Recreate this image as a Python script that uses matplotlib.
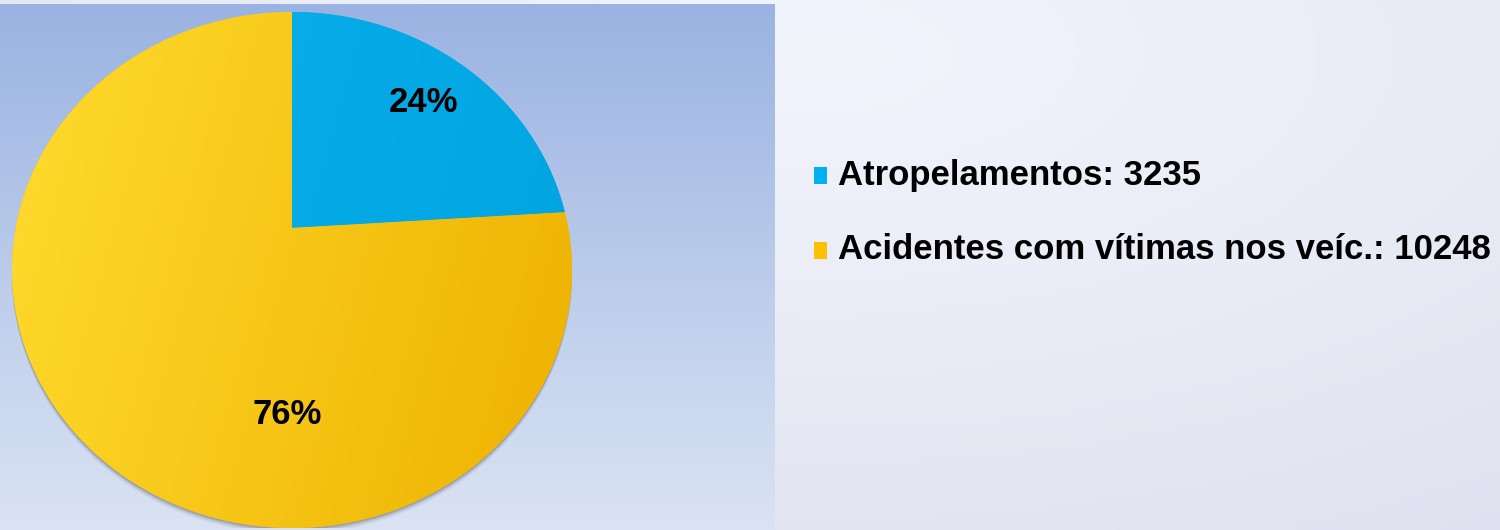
import numpy as np
import matplotlib.pyplot as plt
from matplotlib.colors import LinearSegmentedColormap, to_rgb
from matplotlib.patches import PathPatch, Rectangle
from matplotlib.path import Path

# data
labels = ["Atropelamentos", "Acidentes com vítimas nos veíc."]
values = [3235, 10248]
colors = ["#00B0F0", "#FFC000"]
grad_colors = [("#0AB3EE", "#00A3E0"), ("#FFDC2E", "#EEB100")]

W, H = 1500, 530
fig = plt.figure(figsize=(15, 5.3), dpi=100, facecolor="#E9EDF7")

# background axes in pixel coordinates
bg = fig.add_axes([0, 0, 1, 1])
bg.axis("off")

# right-hand slide background (light, lavender towards the edges)
yy, xx = np.mgrid[0:1:120j, 0:1:300j]
t = np.clip(np.sqrt(((xx - 0.55) * 1.3) ** 2 + ((yy - 0.1) * 1.0) ** 2) / 1.1, 0, 1)
c_light, c_dark = np.array(to_rgb("#F2F5FC")), np.array(to_rgb("#E0E1F0"))
right_img = c_light * (1 - t[..., None]) + c_dark * t[..., None]
bg.imshow(right_img, extent=(0, W, H, 0), aspect="auto", zorder=0)

# chart area background (blue vertical gradient)
ty = np.linspace(0, 1, 200)[:, None, None]
c_top, c_bot = np.array(to_rgb("#9AB3E2")), np.array(to_rgb("#DAE3F3"))
left_img = c_top * (1 - ty) + c_bot * ty
bg.imshow(left_img, extent=(0, 775, H, 4), aspect="auto", zorder=1)
bg.set_xlim(0, W)
bg.set_ylim(H, 0)

# pie axes; the original pie is drawn in perspective (tilted disc)
k = 0.163
pax = fig.add_axes([12 / W, 2 / H, 560 / W, 516 / H])
wedges, _ = pax.pie(values, colors=colors, startangle=90, counterclock=False)


def tilt(path, dy=0.0):
    # flatten the bezier arcs, then apply a projective map: far side shrinks
    pts = []
    for seg, code in path.iter_bezier():
        if code == Path.MOVETO:
            pts.append(seg.control_points[-1:])
        else:
            pts.append(seg(np.linspace(0, 1, 24))[1:])
    v = np.vstack(pts)
    w = 1 + k * v[:, 1]
    out = np.column_stack([v[:, 0] / w, v[:, 1] / w - dy])
    return Path(out, closed=True)


# soft shadow under the pie
circle = Path.unit_circle()
for s, a in zip([0.024, 0.017, 0.011, 0.006], [0.06, 0.09, 0.12, 0.15]):
    pax.add_patch(PathPatch(tilt(circle, dy=s), fc="#303030", ec="none", alpha=a, zorder=0))

# diagonal gradient (light at upper left, darker at lower right)
gx, gy = np.meshgrid(np.linspace(0, 1, 256), np.linspace(0, 1, 256))
grad = np.clip(0.8 * gx + 0.2 * gy, 0, 1)
for w, (c0, c1) in zip(wedges, grad_colors):
    patch = PathPatch(tilt(w.get_path()), fc=w.get_facecolor(), ec="none", zorder=2)
    pax.add_patch(patch)
    cmap = LinearSegmentedColormap.from_list("g", [c0, c1])
    im = pax.imshow(grad, cmap=cmap, extent=(-1.02, 1.02, -1.2, 0.87), origin="upper",
                    aspect="auto", zorder=3, interpolation="bilinear")
    im.set_clip_path(patch)
    w.set_visible(False)

xr = 1 / np.sqrt(1 - k ** 2)
pax.set_aspect("auto")
pax.set_xlim(-xr, xr)
pax.set_ylim(-1 / (1 - k), 1 / (1 + k))
pax.axis("off")

# percentage labels
total = sum(values)
pcts = [f"{round(100 * v / total)}%" for v in values]
pct_pos = [(424, 112), (287, 424)]
for txt, (x, y) in zip(pcts, pct_pos):
    fig.text(x / W, 1 - y / H, txt, ha="center", va="baseline",
             fontsize=25, fontweight="bold", family="Liberation Sans", color="black")

# legend
leg_rows = [(167, 185), (242, 259)]
for lab, val, col, (sq_y, base) in zip(labels, values, colors, leg_rows):
    bg.add_patch(Rectangle((814, sq_y), 13, 17, fc=col, ec="none", zorder=5))
    bg.text(838, base, f"{lab}: {val}", ha="left", va="baseline",
            fontsize=25, fontweight="bold", family="Liberation Sans", color="black", zorder=5)

fig.savefig("out.png", dpi=100, facecolor=fig.get_facecolor())
